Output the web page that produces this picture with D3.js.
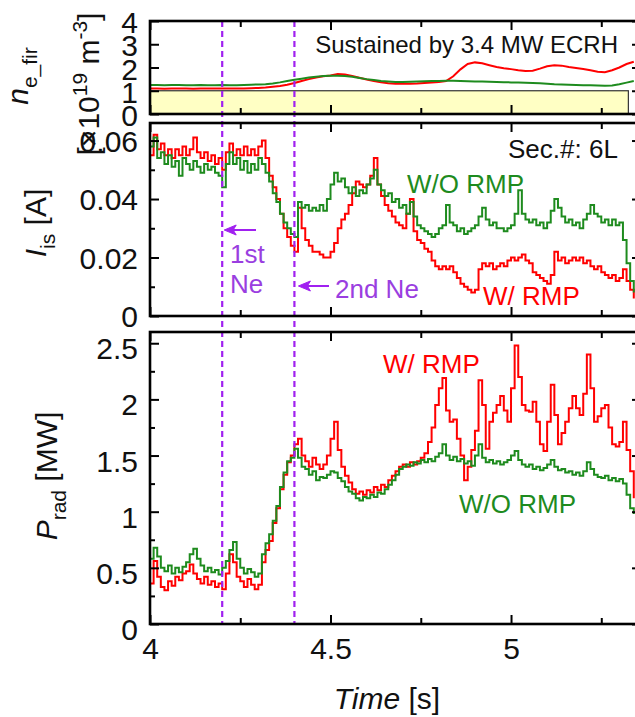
<!DOCTYPE html>
<html>
<head>
<meta charset="utf-8">
<script src="https://cdn.jsdelivr.net/npm/d3@7"></script>
<style>
  html, body { margin: 0; padding: 0; background: #fff; }
  svg { display: block; font-family: "Liberation Sans", Arial, Helvetica, sans-serif; }
</style>
</head>
<body>
<svg id="chart" width="635" height="717"></svg>
<script>
// ---- data -------------------------------------------------------------
const tStart = 4.0;
const neStep = 0.02;   // line-averaged density sampling [s]
const sigStep = 0.01;  // Is and Prad sampling [s]

// n_e_fir [1e19 m^-3]
const neWithRMP = [1.10,1.10,1.09,1.10,1.10,1.10,1.09,1.10,1.10,1.10,1.10,1.10,1.10,1.10,1.11,1.12,
  1.14,1.17,1.20,1.26,1.33,1.42,1.50,1.57,1.62,1.66,1.72,1.70,1.64,1.56,1.48,1.42,1.36,1.32,1.30,1.30,
  1.30,1.31,1.33,1.35,1.38,1.42,1.62,1.92,2.15,2.22,2.18,2.10,2.02,1.97,1.93,1.88,1.85,1.86,1.95,2.05,
  2.10,2.08,2.02,1.98,1.94,1.88,1.82,1.80,1.88,2.00,2.15,2.25];
const neWithoutRMP = [1.25,1.25,1.24,1.25,1.25,1.24,1.24,1.25,1.24,1.24,1.25,1.24,1.24,1.25,1.26,1.27,
  1.28,1.31,1.36,1.42,1.47,1.52,1.57,1.60,1.63,1.65,1.65,1.63,1.60,1.55,1.50,1.46,1.42,1.40,1.38,1.38,
  1.39,1.40,1.41,1.42,1.42,1.43,1.43,1.42,1.41,1.40,1.40,1.39,1.38,1.37,1.36,1.35,1.34,1.33,1.32,1.30,
  1.28,1.27,1.26,1.25,1.24,1.24,1.23,1.22,1.23,1.28,1.35,1.42];

// ion saturation current, Sec.#: 6L [A]
const isWithRMP = [0.055,0.062,0.057,0.059,0.055,0.057,0.054,0.057,0.055,0.058,
  0.055,0.057,0.061,0.056,0.054,0.056,0.053,0.055,0.052,0.054,
  0.050,0.056,0.059,0.055,0.057,0.055,0.058,0.055,0.057,0.055,
  0.058,0.060,0.054,0.048,0.044,0.040,0.035,0.030,0.027,0.024,
  0.022,0.037,0.030,0.026,0.024,0.022,0.022,0.021,0.020,0.020,
  0.022,0.025,0.030,0.033,0.035,0.038,0.042,0.046,0.045,0.044,
  0.045,0.048,0.054,0.045,0.041,0.038,0.036,0.034,0.032,0.031,
  0.030,0.035,0.040,0.029,0.026,0.025,0.023,0.022,0.019,0.017,
  0.016,0.017,0.016,0.017,0.015,0.013,0.011,0.010,0.009,0.008,
  0.009,0.016,0.018,0.017,0.018,0.016,0.017,0.018,0.017,0.019,
  0.020,0.019,0.020,0.021,0.019,0.018,0.015,0.014,0.013,0.012,
  0.011,0.014,0.022,0.019,0.020,0.018,0.019,0.020,0.019,0.020,
  0.018,0.019,0.017,0.016,0.017,0.015,0.014,0.013,0.014,0.012,
  0.013,0.016,0.012,0.009,0.006];
const isWithoutRMP = [0.058,0.061,0.054,0.056,0.052,0.055,0.051,0.053,0.048,0.054,
  0.052,0.050,0.053,0.051,0.049,0.052,0.050,0.051,0.049,0.048,
  0.044,0.052,0.056,0.052,0.054,0.050,0.053,0.049,0.052,0.050,
  0.054,0.052,0.049,0.046,0.042,0.039,0.035,0.032,0.030,0.028,
  0.027,0.039,0.037,0.038,0.036,0.037,0.036,0.038,0.036,0.040,
  0.045,0.049,0.046,0.047,0.044,0.042,0.044,0.041,0.043,0.042,
  0.045,0.047,0.050,0.045,0.043,0.041,0.042,0.039,0.040,0.037,
  0.038,0.035,0.039,0.034,0.031,0.030,0.029,0.028,0.027,0.028,
  0.030,0.031,0.038,0.032,0.031,0.029,0.030,0.028,0.029,0.030,
  0.031,0.034,0.037,0.033,0.031,0.032,0.030,0.030,0.029,0.030,
  0.031,0.035,0.043,0.035,0.033,0.032,0.033,0.031,0.032,0.030,
  0.032,0.036,0.040,0.037,0.034,0.032,0.033,0.031,0.032,0.030,
  0.033,0.035,0.038,0.035,0.034,0.032,0.033,0.031,0.033,0.031,
  0.032,0.026,0.018,0.012,0.008];

// radiated power [MW]
const pradWithRMP = [0.36,0.56,0.42,0.33,0.30,0.38,0.34,0.42,0.39,0.45,
  0.47,0.53,0.45,0.40,0.36,0.42,0.35,0.38,0.33,0.36,
  0.31,0.45,0.62,0.55,0.42,0.38,0.33,0.40,0.35,0.31,
  0.35,0.55,0.66,0.74,0.90,1.03,1.20,1.33,1.44,1.50,
  1.60,1.65,1.50,1.45,1.40,1.48,1.42,1.38,1.42,1.50,
  1.65,1.80,1.55,1.40,1.32,1.26,1.20,1.16,1.18,1.15,
  1.19,1.17,1.22,1.19,1.24,1.22,1.28,1.32,1.36,1.40,
  1.42,1.40,1.44,1.42,1.45,1.48,1.52,1.62,1.75,1.95,
  2.10,2.19,1.90,1.80,1.82,1.65,1.50,1.28,1.40,1.55,
  1.72,2.17,1.95,1.56,1.80,1.88,1.95,2.03,1.90,1.80,
  2.10,2.48,2.20,1.95,1.90,1.89,1.98,1.80,1.60,1.54,
  1.80,2.13,1.86,1.60,1.70,1.80,1.92,2.03,1.92,1.86,
  2.05,2.40,2.10,1.80,1.85,1.92,1.95,1.75,1.60,1.58,
  1.62,1.80,1.55,1.36,1.12];
const pradWithoutRMP = [0.58,0.68,0.60,0.50,0.47,0.52,0.45,0.50,0.46,0.51,
  0.55,0.62,0.67,0.58,0.52,0.47,0.50,0.46,0.48,0.44,
  0.50,0.56,0.66,0.73,0.58,0.50,0.45,0.49,0.46,0.42,
  0.45,0.62,0.72,0.80,0.92,1.05,1.22,1.35,1.45,1.48,
  1.56,1.48,1.40,1.38,1.33,1.36,1.28,1.31,1.30,1.33,
  1.36,1.35,1.30,1.27,1.22,1.18,1.16,1.12,1.10,1.13,
  1.12,1.15,1.13,1.17,1.16,1.20,1.24,1.28,1.33,1.38,
  1.40,1.42,1.41,1.44,1.43,1.46,1.44,1.47,1.45,1.49,
  1.52,1.60,1.50,1.46,1.49,1.45,1.47,1.43,1.45,1.41,
  1.50,1.60,1.48,1.44,1.46,1.43,1.45,1.42,1.44,1.46,
  1.50,1.54,1.46,1.42,1.40,1.42,1.38,1.40,1.37,1.39,
  1.42,1.46,1.40,1.37,1.38,1.35,1.36,1.33,1.35,1.32,
  1.36,1.44,1.38,1.33,1.31,1.30,1.32,1.28,1.30,1.27,
  1.29,1.25,1.15,1.03,0.98];

// Ne puff timings and ECRH window
const neonPuffs = [4.2, 4.4];
const ecrhWindow = [4.0, 5.325];
const ecrhLevel = 1.0;

// tick values
const xMajorTicks = [4, 4.5, 5];
const xMinorTicks = [4.25, 4.75, 5.25];
const neTicks = [0, 1, 2, 3, 4];
const isMajorTicks = [0, 0.02, 0.04, 0.06];
const isMinorTicks = [0.01, 0.03, 0.05];
const pradMajorTicks = [0, 0.5, 1, 1.5, 2, 2.5];
const pradMinorTicks = [0.25, 0.75, 1.25, 1.75, 2.25];

// ---- layout -----------------------------------------------------------
const RED = "#ff0000", GREEN = "#1e8b1e", PURPLE = "#a020f0", PURPLE_TXT = "#9a3ee0";
const svg = d3.select("#chart");
const left = 150, right = 641;
const x = d3.scaleLinear().domain([4, 5.36]).range([left, right]);

const panels = [
  { key: "ne", top: 21, bottom: 114, domain: [0, 4], major: neTicks, minor: [], fmt: d3.format("d"), labelShift: 2 },
  { key: "is", top: 123, bottom: 316, domain: [0, 0.066], major: isMajorTicks, minor: isMinorTicks,
    fmt: d => d === 0 ? "0" : d3.format(".2f")(d), labelShift: 1 },
  { key: "prad", top: 332, bottom: 624, domain: [0, 2.6], major: pradMajorTicks, minor: pradMinorTicks,
    fmt: d => d3.format("~g")(d), labelShift: 6 }
];
panels.forEach(p => { p.y = d3.scaleLinear().domain(p.domain).range([p.bottom, p.top]); });

const defs = svg.append("defs");
panels.forEach(p => {
  defs.append("clipPath").attr("id", "clip-" + p.key)
    .append("rect").attr("x", left).attr("y", p.top).attr("width", right - left).attr("height", p.bottom - p.top);
});

function toPoints(values, step) {
  return values.map((v, i) => [tStart + i * step, v]);
}

function drawAxes(p, withXLabels) {
  const g = svg.append("g");
  const style = sel => {
    sel.select(".domain").remove();
    sel.selectAll("line").attr("stroke", "#000").attr("stroke-width", 2);
  };
  // left y ticks (inward)
  g.append("g").attr("transform", `translate(${left},0)`)
    .call(d3.axisLeft(p.y).tickValues(p.major).tickSize(-9).tickPadding(12).tickFormat(p.fmt))
    .call(style)
    .call(s => s.selectAll("text").attr("font-size", 30).attr("fill", "#111")
      .attr("font-family", "Liberation Sans, Arial, sans-serif").attr("dy", "0.32em")
      .attr("transform", `translate(0,${p.labelShift})`));
  if (p.minor.length) {
    g.append("g").attr("transform", `translate(${left},0)`)
      .call(d3.axisLeft(p.y).tickValues(p.minor).tickSize(-5).tickFormat(""))
      .call(style);
  }
  // right y ticks (inward, no labels)
  g.append("g").attr("transform", `translate(${right},0)`)
    .call(d3.axisRight(p.y).tickValues(p.major).tickSize(-9).tickFormat(""))
    .call(style);
  if (p.minor.length) {
    g.append("g").attr("transform", `translate(${right},0)`)
      .call(d3.axisRight(p.y).tickValues(p.minor).tickSize(-5).tickFormat(""))
      .call(style);
  }
  // x ticks on bottom and top borders
  const bx = g.append("g").attr("transform", `translate(0,${p.bottom})`)
    .call(d3.axisBottom(x).tickValues(xMajorTicks).tickSize(-9).tickPadding(14)
      .tickFormat(withXLabels ? d3.format("~g") : ""))
    .call(style);
  bx.selectAll("text").attr("font-size", 30).attr("fill", "#111")
    .attr("font-family", "Liberation Sans, Arial, sans-serif");
  g.append("g").attr("transform", `translate(0,${p.bottom})`)
    .call(d3.axisBottom(x).tickValues(xMinorTicks).tickSize(-6).tickFormat(""))
    .call(style);
  g.append("g").attr("transform", `translate(0,${p.top})`)
    .call(d3.axisTop(x).tickValues(xMajorTicks).tickSize(-9).tickFormat(""))
    .call(style);
  g.append("g").attr("transform", `translate(0,${p.top})`)
    .call(d3.axisTop(x).tickValues(xMinorTicks).tickSize(-6).tickFormat(""))
    .call(style);
}

// signals are drawn as sample-and-hold traces
function drawSeries(p, values, step, color, curve) {
  const line = d3.line()
    .x(d => x(d[0]))
    .y(d => p.y(d[1]))
    .curve(curve);
  svg.append("path")
    .datum(toPoints(values, step))
    .attr("clip-path", `url(#clip-${p.key})`)
    .attr("fill", "none")
    .attr("stroke", color)
    .attr("stroke-width", 2)
    .attr("stroke-linejoin", "miter")
    .attr("d", line);
}

const [pNe, pIs, pPrad] = panels;

// ECRH bar in the density panel
svg.append("rect")
  .attr("x", x(ecrhWindow[0])).attr("y", pNe.y(ecrhLevel))
  .attr("width", x(ecrhWindow[1]) - x(ecrhWindow[0]))
  .attr("height", pNe.y(0) - pNe.y(ecrhLevel))
  .attr("fill", "#ffffc4").attr("stroke", "#333").attr("stroke-width", 1.2);

drawSeries(pNe, neWithRMP, neStep, RED, d3.curveLinear);
drawSeries(pNe, neWithoutRMP, neStep, GREEN, d3.curveLinear);
drawSeries(pIs, isWithRMP, sigStep, RED, d3.curveStepAfter);
drawSeries(pIs, isWithoutRMP, sigStep, GREEN, d3.curveStepAfter);
drawSeries(pPrad, pradWithRMP, sigStep, RED, d3.curveStepAfter);
drawSeries(pPrad, pradWithoutRMP, sigStep, GREEN, d3.curveStepAfter);

// Ne puff markers across all panels
neonPuffs.forEach(t => {
  svg.append("line")
    .attr("x1", x(t)).attr("x2", x(t))
    .attr("y1", pNe.top).attr("y2", pPrad.bottom)
    .attr("stroke", PURPLE).attr("stroke-width", 2.2)
    .attr("stroke-dasharray", "6,4");
});

panels.forEach((p, i) => drawAxes(p, i === 2));

// panel frames
panels.forEach(p => {
  svg.append("rect").attr("x", left).attr("y", p.top)
    .attr("width", right - left).attr("height", p.bottom - p.top)
    .attr("fill", "none").attr("stroke", "#000").attr("stroke-width", 2.6);
});

// ---- annotations ------------------------------------------------------
function txt(s, xPos, yPos, color, size, anchor) {
  return svg.append("text").attr("x", xPos).attr("y", yPos)
    .attr("fill", color).attr("font-size", size).attr("text-anchor", anchor || "start").text(s);
}
txt("Sustained by 3.4 MW ECRH", 618, 53, "#111", 24, "end");
txt("Sec.#: 6L", 508, 158, "#111", 26);
txt("W/O RMP", 407, 193, GREEN, 26);
txt("W/ RMP", 483, 305, RED, 26);
txt("W/ RMP", 383, 373, RED, 26);
txt("W/O RMP", 459, 513, GREEN, 26);
txt("1st", 230, 263, PURPLE_TXT, 26);
txt("Ne", 230, 293, PURPLE_TXT, 26);
txt("2nd Ne", 335, 298, PURPLE_TXT, 26);

function arrow(tipX, tailX, yPos) {
  svg.append("line").attr("x1", tailX).attr("x2", tipX + 4).attr("y1", yPos).attr("y2", yPos)
    .attr("stroke", PURPLE).attr("stroke-width", 2);
  svg.append("path")
    .attr("d", `M${tipX},${yPos} L${tipX + 12},${yPos - 5} L${tipX + 9},${yPos} L${tipX + 12},${yPos + 5} Z`)
    .attr("fill", PURPLE).attr("stroke", PURPLE).attr("stroke-width", 1);
}
arrow(x(neonPuffs[0]) + 2, 256, 230);
arrow(x(neonPuffs[1]) + 4, 329, 286);

// ---- axis titles ------------------------------------------------------
function rotLabel(cx, cy, build) {
  const t = svg.append("text")
    .attr("transform", `translate(${cx},${cy}) rotate(-90)`)
    .attr("text-anchor", "middle").attr("font-size", 30).attr("fill", "#111");
  build(t);
}
rotLabel(28, 76, t => {
  t.append("tspan").attr("font-style", "italic").text("n");
  t.append("tspan").attr("font-size", 21).attr("dy", 9).text("e_fir");
});
rotLabel(99, 84, t => {
  t.append("tspan").text("[\u00d710");
  t.append("tspan").attr("font-size", 21).attr("dy", -12).text("19");
  t.append("tspan").attr("dy", 12).text(" m");
  t.append("tspan").attr("font-size", 21).attr("dy", -12).text("-3");
  t.append("tspan").attr("dy", 12).text("]");
});
rotLabel(46, 223, t => {
  t.append("tspan").attr("font-style", "italic").text("I");
  t.append("tspan").attr("font-size", 21).attr("dy", 9).text("is");
  t.append("tspan").attr("dy", -9).text(" [A]");
});
rotLabel(57, 476, t => {
  t.append("tspan").attr("font-style", "italic").text("P");
  t.append("tspan").attr("font-size", 21).attr("dy", 9).text("rad");
  t.append("tspan").attr("dy", -9).text(" [MW]");
});
svg.append("text").attr("x", 387).attr("y", 709).attr("text-anchor", "middle")
  .attr("font-size", 30).attr("fill", "#111")
  .call(t => {
    t.append("tspan").attr("font-style", "italic").text("Time");
    t.append("tspan").text(" [s]");
  });
</script>
</body>
</html>
